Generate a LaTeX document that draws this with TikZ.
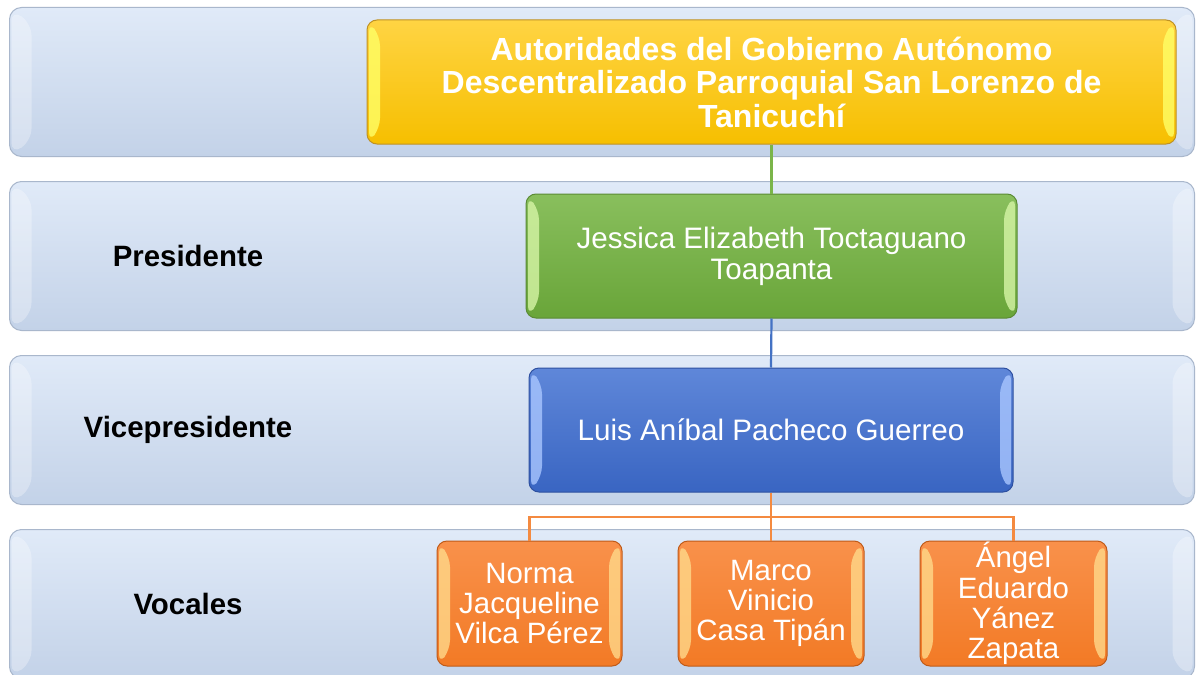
\documentclass[tikz,border=0pt]{standalone}
\usepackage{fontspec}
\setmainfont{Liberation Sans}
\definecolor{bandtop}{HTML}{E0EAF8}
\definecolor{bandbot}{HTML}{C3D2E8}
\definecolor{bandline}{HTML}{A9B7CC}
\definecolor{yeltop}{HTML}{FFD443}
\definecolor{yelbot}{HTML}{F6BF00}
\definecolor{yelline}{HTML}{BF9224}
\definecolor{yelhl}{HTML}{FFFF66}
\definecolor{grntop}{HTML}{89BF5D}
\definecolor{grnbot}{HTML}{69A539}
\definecolor{grnline}{HTML}{5B8B35}
\definecolor{grnhl}{HTML}{D6F5A6}
\definecolor{blutop}{HTML}{5F87D9}
\definecolor{blubot}{HTML}{3965C2}
\definecolor{bluline}{HTML}{2E50A0}
\definecolor{bluhl}{HTML}{A9C6FF}
\definecolor{orgtop}{HTML}{F9914B}
\definecolor{orgbot}{HTML}{F27A25}
\definecolor{orgline}{HTML}{BF5B19}
\definecolor{orghl}{HTML}{FFD98A}
\definecolor{gconn}{HTML}{7BB54A}
\definecolor{bconn}{HTML}{4472C4}
\definecolor{oconn}{HTML}{F48A40}
\tikzset{
  bevel/.style n args={3}{path picture={
    \fill[#1, opacity=#2] ([xshift=2pt,yshift=-2pt]path picture bounding box.north west) -- ([xshift=#3,yshift=-16pt]path picture bounding box.north west)
      -- ([xshift=#3,yshift=16pt]path picture bounding box.south west) -- ([xshift=2pt,yshift=2pt]path picture bounding box.south west) -- cycle;
    \fill[#1, opacity=#2] ([xshift=-2pt,yshift=-2pt]path picture bounding box.north east) -- ([xshift=-#3,yshift=-16pt]path picture bounding box.north east)
      -- ([xshift=-#3,yshift=16pt]path picture bounding box.south east) -- ([xshift=-2pt,yshift=2pt]path picture bounding box.south east) -- cycle;
  }},
  band/.style={draw=bandline, line width=1pt, rounded corners=12pt, top color=bandtop, bottom color=bandbot,
    minimum width=1185pt, minimum height=149pt, inner sep=0pt, anchor=north west, bevel={white}{.3}{22pt}},
  rowlabel/.style={font=\fontsize{29.4}{33}\selectfont\bfseries, text=black},
  card/.style={rounded corners=10pt, line width=1pt, text=white, align=center, inner sep=0pt,
    minimum height=124pt},
  yelcard/.style={card, draw=yelline, top color=yeltop, bottom color=yelbot, bevel={yelhl}{.8}{13pt},
    font=\fontsize{32}{33.5}\selectfont\bfseries},
  grncard/.style={card, draw=grnline, top color=grntop, bottom color=grnbot, bevel={grnhl}{.8}{13pt},
    font=\fontsize{29.6}{31}\selectfont},
  blucard/.style={card, draw=bluline, top color=blutop, bottom color=blubot, bevel={bluhl}{.8}{13pt},
    font=\fontsize{29.6}{31}\selectfont},
  orgcard/.style={card, draw=orgline, top color=orgtop, bottom color=orgbot, minimum height=125pt,
    bevel={orghl}{.8}{13pt}, font=\fontsize{29.4}{30.4}\selectfont},
  conn/.style={line width=2.2pt}
}
\begin{document}
\begin{tikzpicture}[x=1pt,y=-1pt]
\clip (0,0) rectangle (1198,674);
\fill[white] (0,0) rectangle (1198,674);
% bands
\node[band] (band1) at (9,7) {};
\node[band] (band2) at (9,181) {};
\node[band] (band3) at (9,355) {};
\node[band] (band4) at (9,529) {};
% row labels
\node[rowlabel] (lpres) at (188,255.5) {Presidente};
\node[rowlabel] (lvice) at (188,429.5) {Vicepresidente};
\node[rowlabel] (lvoc) at (188,603.5) {Vocales};
% cards
\node[yelcard, minimum width=809pt] (yel) at (771.5,82) {Autoridades del Gobierno Autónomo\\Descentralizado Parroquial San Lorenzo de\\Tanicuchí};
\node[grncard, minimum width=491pt] (grn) at (771.5,256) {Jessica Elizabeth Toctaguano\\Toapanta};
\node[blucard, minimum width=484pt] (blu) at (771,430) {Luis Aníbal Pacheco Guerreo};
\node[orgcard, minimum width=185pt] (o1) at (529.5,603.5) {Norma\\Jacqueline\\Vilca Pérez};
\node[orgcard, minimum width=186pt] (o2) at (771,603.5) {Marco\\Vinicio\\Casa Tipán};
\node[orgcard, minimum width=187pt] (o3) at (1013.5,603.5) {Ángel\\Eduardo\\Yánez\\Zapata};
% connectors
\coordinate (fork) at (771,517);
\draw[conn, gconn] (yel.south) -- (grn.north);
\draw[conn, bconn] (grn.south) -- (blu.north);
\draw[conn, oconn] (blu.south) -- (blu.south |- fork) -| (o1.north);
\draw[conn, oconn] (blu.south |- fork) -- (o2.north);
\draw[conn, oconn] (blu.south |- fork) -| (o3.north);
\end{tikzpicture}
\end{document}
